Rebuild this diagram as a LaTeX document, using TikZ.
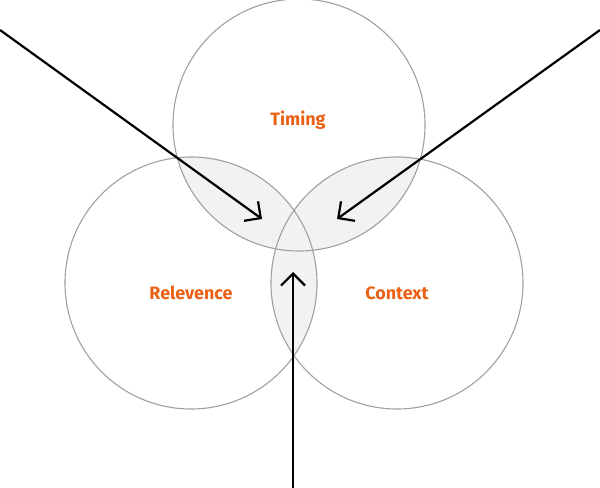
\documentclass[tikz,border=0pt]{standalone}
\usepackage{fontspec}
\setmainfont{Fira Sans}
\usepackage{tikz}
\usepackage{xcolor}
\usetikzlibrary{arrows.meta}
\definecolor{labelorange}{RGB}{234,96,20}
\definecolor{ringgray}{RGB}{160,160,160}
\definecolor{overlapgray}{RGB}{242,242,242}

\begin{document}
\begin{tikzpicture}[x=1bp,y=-1bp,
  ring/.style={draw=ringgray,line width=1.1bp},
  lbl/.style={text=labelorange,font=\fontsize{18}{21}\selectfont\bfseries},
  pointer/.style={line width=2.2bp,-{Straight Barb[length=12bp,width=24bp,line width=2.2bp]}}]
\useasboundingbox (0,0) rectangle (600,488);
\def\rad{126}
\coordinate (cT) at (299,125);
\coordinate (cR) at (191,283);
\coordinate (cC) at (397,283);

% overlaps
\begin{scope}
\clip (cT) circle (\rad);
\fill[overlapgray] (cR) circle (\rad);
\fill[overlapgray] (cC) circle (\rad);
\end{scope}
\begin{scope}
\clip (cR) circle (\rad);
\fill[overlapgray] (cC) circle (\rad);
\end{scope}

% circles
\draw[ring] (cT) circle (\rad);
\draw[ring] (cR) circle (\rad);
\draw[ring] (cC) circle (\rad);

% labels
\node[lbl] (timing) at (298,120) {Timing};
\node[lbl] (relevence) at (191,293) {Relevence};
\node[lbl] (context) at (397,293) {Context};

% arrows
\coordinate (leftstart) at (0,30);
\coordinate (lefttip) at (262,219);
\coordinate (rightstart) at (600,30);
\coordinate (righttip) at (337,219);
\coordinate (bottomstart) at (293,488);
\coordinate (bottomtip) at (293,272);
\draw[pointer] (leftstart) -- (lefttip);
\draw[pointer] (rightstart) -- (righttip);
\draw[pointer] (bottomstart) -- (bottomtip);
\end{tikzpicture}
\end{document}
